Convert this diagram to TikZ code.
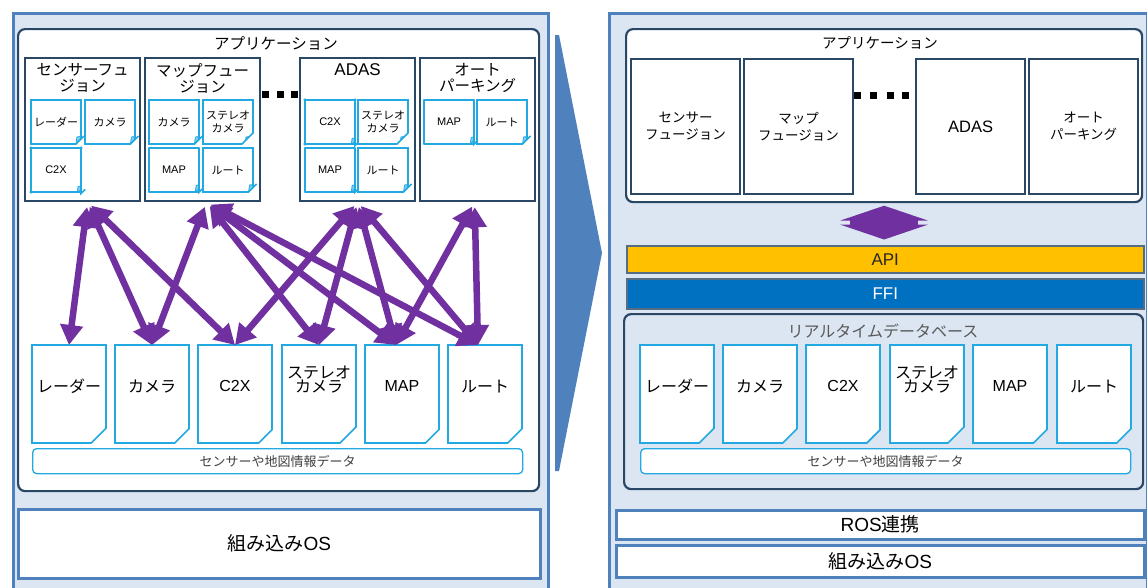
\documentclass[tikz,border=0pt]{standalone}
\usepackage{fontspec}
\setmainfont{Noto Sans CJK JP}
\newfontfamily\latinfont{Liberation Sans}
\usetikzlibrary{arrows.meta}
\usetikzlibrary{calc}
\usetikzlibrary{positioning}
\usetikzlibrary{shapes.misc}

\definecolor{panelFill}{HTML}{DCE6F2}
\definecolor{panelLine}{HTML}{4F81BD}
\definecolor{appLine}{HTML}{2B4766}
\definecolor{docLine}{HTML}{22A9E1}
\definecolor{docFold}{HTML}{7FCDEF}
\definecolor{linkPurple}{HTML}{7030A0}
\definecolor{apiYellow}{HTML}{FFC000}
\definecolor{ffiBlue}{HTML}{0070C0}

\begin{document}
\begin{tikzpicture}[x=1pt,y=-1pt,
    panel/.style={draw=panelLine,fill=panelFill,line width=2.5pt,anchor=north west},
    appframe/.style={draw=appLine,fill=white,line width=2.2pt,rounded corners=7pt,anchor=north west},
    appbox/.style={draw=appLine,fill=white,line width=2.2pt,anchor=north west,minimum width=115pt,minimum height=143pt},
    rappbox/.style={appbox,minimum width=109pt,minimum height=135pt,align=center,font=\fontsize{13.5}{17}\selectfont},
    title/.style={align=center,inner sep=2pt,font=\fontsize{15.5}{16}\selectfont},
    doc/.style={chamfered rectangle,chamfered rectangle corners=south east,
      chamfered rectangle xsep=8pt,chamfered rectangle ysep=8pt,
      draw=docLine,fill=white,line width=1.6pt,anchor=north west,inner sep=-8pt,outer sep=0pt,align=center,
      path picture={\filldraw[draw=docLine,fill=docFold,line width=0.8pt]
        ([xshift=-8pt]path picture bounding box.south east) -- ([yshift=8pt]path picture bounding box.south east)
        -- ([shift={(-7pt,7pt)}]path picture bounding box.south east) -- cycle;}},
    smalldoc/.style={doc,minimum width=50pt,minimum height=44pt,font=\fontsize{11}{13}\selectfont},
    bigdoc/.style={doc,minimum width=74pt,minimum height=98pt,font=\fontsize{16}{14}\selectfont,text depth=16pt},
    databar/.style={draw=docLine,fill=white,line width=1.3pt,rounded corners=4pt,anchor=north west,
      minimum width=490pt,minimum height=25pt,text=black!75,font=\fontsize{13}{13}\selectfont},
    osbox/.style={draw=panelLine,fill=white,line width=2.5pt,anchor=north west,inner sep=1pt,font=\fontsize{19}{20}\selectfont},
    bar/.style={draw=appLine!80,line width=1.5pt,anchor=north west,minimum width=517pt,font=\latinfont\fontsize{17}{18}\selectfont},
    link/.style={>={Triangle[width=22pt,length=20pt]},<->,draw=linkPurple,line width=6.5pt,shorten <=5pt},
    dbl/.style={{Triangle[width=88pt,length=15pt]}-{Triangle[width=88pt,length=15pt]},draw=linkPurple,line width=68pt}
  ]
  \useasboundingbox (0,0) rectangle (1147,587);

  % left: before
  \node[panel,minimum width=535pt,minimum height=590pt] (lpanel) at (12,12) {};
  \node[appframe,minimum width=521pt,minimum height=462pt] (lappFrame) at (17,28) {};
  \node[title] (lapp) at (276,43) {アプリケーション};

  \node[appbox] (lsensor) at (24,57) {};
  \node[appbox] (lmapf) at (144,57) {};
  \node[appbox] (ladas) at (299,57) {};
  \node[appbox] (lpark) at (419,57) {};
  \node[title,below=4pt of lsensor.north] (lsensorT) {センサーフュ\\ジョン};
  \node[title,below=4pt of lmapf.north] (lmapfT) {マップフュー\\ジョン};
  \node[title,below=4pt of ladas.north,font=\latinfont\fontsize{17}{16}\selectfont] (ladasT) {ADAS};
  \node[title,below=4pt of lpark.north] (lparkT) {オート\\パーキング};

  \node[smalldoc] (lsRadar) at (31,100) {レーダー};
  \node[smalldoc] (lsCam) at (85,100) {カメラ};
  \node[smalldoc] (lsC2x) at (31,148) {\latinfont C2X};
  \node[smalldoc] (lmCam) at (149,100) {カメラ};
  \node[smalldoc] (lmStereo) at (203,100) {ステレオ\\カメラ};
  \node[smalldoc] (lmMap) at (149,148) {\latinfont MAP};
  \node[smalldoc] (lmRoute) at (203,148) {ルート};
  \node[smalldoc] (laC2x) at (305,100) {\latinfont C2X};
  \node[smalldoc] (laStereo) at (358,100) {ステレオ\\カメラ};
  \node[smalldoc] (laMap) at (305,148) {\latinfont MAP};
  \node[smalldoc] (laRoute) at (358,148) {ルート};
  \node[smalldoc] (lpMap) at (424,100) {\latinfont MAP};
  \node[smalldoc] (lpRoute) at (477,100) {ルート};

  \fill (261.5,90.5) rectangle ++(7,7);
  \fill (276.5,90.5) rectangle ++(7,7);
  \fill (290.5,90.5) rectangle ++(7,7);

  \node[bigdoc] (lRadar) at (32,345) {レーダー};
  \node[bigdoc] (lCam) at (115,345) {カメラ};
  \node[bigdoc] (lC2x) at (198,345) {\latinfont C2X};
  \node[bigdoc,text depth=30pt] (lStereo) at (282,345) {ステレオ\\カメラ};
  \node[bigdoc] (lMap) at (365,345) {\latinfont MAP};
  \node[bigdoc] (lRoute) at (448,345) {ルート};
  \node[databar] (lData) at (32,448) {センサーや地図情報データ};
  \node[osbox,minimum width=522pt,minimum height=69pt] (lOS) at (17,508) {組み込み{\latinfont OS}};

  \draw[link] ([xshift=5pt]lsensor.south) -- (lRadar.north);
  \draw[link] ([xshift=5pt]lsensor.south) -- (lCam.north);
  \draw[link] ([xshift=5pt]lsensor.south) -- (lC2x.north);
  \draw[link] ([xshift=4pt]lmapf.south) -- (lCam.north);
  \draw[link] ([xshift=4pt]lmapf.south) -- (lStereo.north);
  \draw[link] ([xshift=4pt]lmapf.south) -- ([xshift=-6pt]lMap.north);
  \draw[link] ([xshift=4pt]lmapf.south) -- ([xshift=-7pt]lRoute.north);
  \draw[link] (ladas.south) -- (lC2x.north);
  \draw[link] (ladas.south) -- (lStereo.north);
  \draw[link] (ladas.south) -- ([xshift=-6pt]lMap.north);
  \draw[link] (ladas.south) -- ([xshift=-7pt]lRoute.north);
  \draw[link] ([xshift=-3pt]lpark.south) -- ([xshift=-6pt]lMap.north);
  \draw[link] ([xshift=-3pt]lpark.south) -- ([xshift=-7pt]lRoute.north);

  % middle arrow
  \fill[panelLine] (555,35) -- (559,35) -- (602,253) -- (559,471) -- (555,471) -- cycle;

  % right: after
  \node[panel,minimum width=538pt,minimum height=590pt] (rpanel) at (608,12) {};
  \node[appframe,minimum width=516pt,minimum height=173pt] (rappFrame) at (625,28) {};
  \node[title,font=\fontsize{14.5}{16}\selectfont] (rapp) at (880,43) {アプリケーション};
  \node[rappbox] (rsensor) at (630,58) {センサー\\フュージョン};
  \node[rappbox] (rmapf) at (743,58) {マップ\\フュージョン};
  \node[rappbox,font=\latinfont\fontsize{16.5}{17}\selectfont] (radas) at (915,58) {ADAS};
  \node[rappbox] (rpark) at (1028,58) {オート\\パーキング};

  \fill (853.5,91.5) rectangle ++(7,7);
  \fill (869.5,91.5) rectangle ++(7,7);
  \fill (886.5,91.5) rectangle ++(7,7);
  \fill (901.5,91.5) rectangle ++(7,7);

  \node[bar,fill=apiYellow,text=black!85,minimum height=27pt] (api) at (626,245) {API};
  \node[bar,fill=ffiBlue,text=white,minimum height=30pt] (ffi) at (626,278) {FFI};
  \draw[dbl,shorten <=2.5pt,shorten >=5.5pt] (rappFrame.south) -- (rappFrame.south |- api.north);

  \node[appframe,fill=panelFill,minimum width=519pt,minimum height=175pt] (rdbFrame) at (623,313) {};
  \node[title,text=black!65,font=\fontsize{16}{16}\selectfont] (rdbT) at (883,331) {リアルタイムデータベース};
  \node[bigdoc] (rRadar) at (640,345) {レーダー};
  \node[bigdoc] (rCam) at (723,345) {カメラ};
  \node[bigdoc] (rC2x) at (806,345) {\latinfont C2X};
  \node[bigdoc,text depth=30pt] (rStereo) at (890,345) {ステレオ\\カメラ};
  \node[bigdoc] (rMap) at (973,345) {\latinfont MAP};
  \node[bigdoc] (rRoute) at (1057,345) {ルート};
  \node[databar] (rData) at (640,448) {センサーや地図情報データ};

  \node[osbox,minimum width=528pt,minimum height=29pt] (rROS) at (615,509) {{\latinfont ROS}連携};
  \node[osbox,minimum width=528pt,minimum height=32pt] (rOS) at (615,544) {組み込み{\latinfont OS}};
\end{tikzpicture}
\end{document}
